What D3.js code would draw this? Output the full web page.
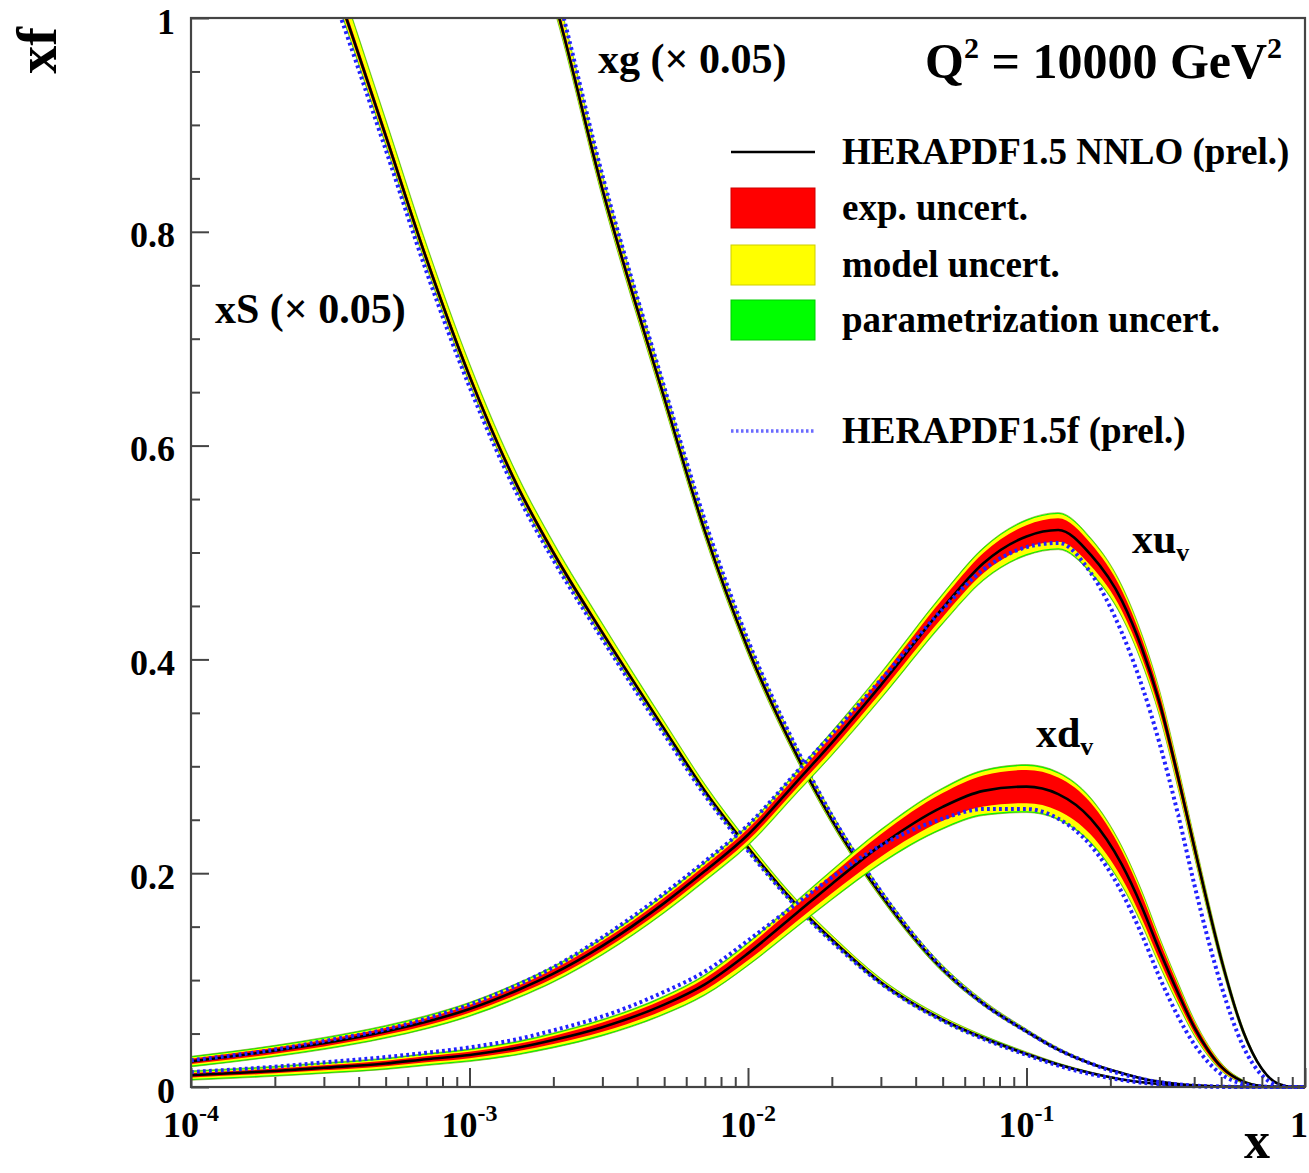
<!DOCTYPE html>
<html><head><meta charset="utf-8">
<script src="https://cdn.jsdelivr.net/npm/d3@7"></script>
<style>
body{margin:0;background:#fff}
svg{display:block}
text{font-family:"Liberation Serif","Times New Roman",serif;font-weight:bold;fill:#000}
</style>
</head><body>
<svg id="chart" width="1309" height="1173"></svg>
<script>
// ---------------- DATA ----------------
const xGrid = [1e-4,2e-4,3e-4,5e-4,7e-4,1e-3,1.5e-3,2e-3,3e-3,5e-3,7e-3,1e-2,1.5e-2,2e-2,3e-2,5e-2,7e-2,0.1,0.13,0.17,0.22,0.26,0.3,0.35,0.4,0.45,0.5,0.6,0.7,0.8,0.9,1.0];

// xu_v  (HERAPDF1.5 NNLO central, uncertainties) and HERAPDF1.5f
const xuv      = [0.024,0.034,0.041,0.052,0.061,0.073,0.091,0.106,0.132,0.172,0.202,0.236,0.286,0.322,0.376,0.448,0.490,0.515,0.521,0.498,0.455,0.410,0.360,0.290,0.225,0.168,0.120,0.052,0.017,0.003,0.0002,0];
const xuvExp   = [0.0025,0.0028,0.003,0.0032,0.0034,0.0036,0.004,0.0042,0.0045,0.005,0.0052,0.0055,0.006,0.0065,0.007,0.0085,0.0095,0.0105,0.011,0.0105,0.0095,0.0088,0.008,0.007,0.0058,0.0046,0.0035,0.0018,0.0007,0.0002,0,0];
const xuvModUp = [0.001,0.001,0.0012,0.0012,0.0013,0.0014,0.0015,0.0016,0.0018,0.002,0.0022,0.0024,0.0027,0.003,0.0033,0.0036,0.0038,0.004,0.004,0.0038,0.0035,0.0032,0.0028,0.0024,0.002,0.0016,0.0012,0.0006,0.0002,0,0,0];
const xuvModDn = [0.0015,0.0017,0.0018,0.002,0.0021,0.0022,0.0024,0.0026,0.0028,0.003,0.0032,0.0035,0.0038,0.0042,0.0046,0.005,0.0055,0.006,0.006,0.0055,0.0048,0.0042,0.0036,0.003,0.0024,0.0019,0.0014,0.0007,0.0002,0,0,0];
const xuvPar   = [0.0012,0.0012,0.0012,0.0012,0.0012,0.0012,0.0012,0.0012,0.0012,0.0012,0.0012,0.0012,0.0012,0.0012,0.0013,0.0013,0.0013,0.0013,0.0013,0.0013,0.0012,0.0012,0.0011,0.001,0.0009,0.0008,0.0007,0.0004,0.0002,0,0,0];
const xuvF     = [0.025,0.035,0.043,0.054,0.064,0.077,0.096,0.112,0.140,0.181,0.211,0.245,0.295,0.330,0.381,0.447,0.484,0.505,0.509,0.481,0.425,0.375,0.322,0.255,0.190,0.137,0.095,0.038,0.011,0.0015,0,0];

// xd_v
const xdv      = [0.011,0.015,0.018,0.022,0.026,0.030,0.037,0.044,0.056,0.077,0.096,0.125,0.163,0.190,0.226,0.262,0.277,0.281,0.274,0.251,0.208,0.168,0.128,0.088,0.056,0.034,0.019,0.005,0.001,0.0001,0,0];
const xdvExp   = [0.002,0.0022,0.0024,0.0026,0.0028,0.003,0.0034,0.0038,0.0043,0.005,0.0056,0.0065,0.0078,0.0088,0.0105,0.013,0.0145,0.0155,0.0155,0.0148,0.0128,0.011,0.009,0.007,0.005,0.0035,0.0025,0.001,0.0003,0,0,0];
const xdvModUp = [0.001,0.001,0.0011,0.0012,0.0013,0.0014,0.0015,0.0016,0.0018,0.002,0.0022,0.0025,0.0028,0.003,0.0032,0.0035,0.0037,0.0038,0.0037,0.0035,0.0032,0.0028,0.0024,0.0019,0.0014,0.001,0.0007,0.0003,0.0001,0,0,0];
const xdvModDn = [0.0015,0.0016,0.0017,0.0018,0.0019,0.002,0.0022,0.0024,0.0027,0.003,0.0034,0.0038,0.0043,0.0048,0.0055,0.0065,0.0072,0.0075,0.0073,0.0068,0.0058,0.0048,0.004,0.003,0.002,0.0013,0.0008,0.0003,0.0001,0,0,0];
const xdvPar   = [0.0012,0.0012,0.0012,0.0012,0.0012,0.0012,0.0012,0.0012,0.0012,0.0012,0.0012,0.0012,0.0012,0.0012,0.0013,0.0013,0.0013,0.0013,0.0013,0.0013,0.0012,0.0012,0.0011,0.001,0.0008,0.0006,0.0004,0.0002,0,0,0,0];
const xdvF     = [0.014,0.019,0.023,0.028,0.032,0.037,0.045,0.053,0.066,0.089,0.108,0.137,0.172,0.196,0.226,0.251,0.260,0.260,0.251,0.226,0.182,0.142,0.103,0.066,0.040,0.023,0.012,0.003,0.0005,0,0,0];

// xS (x 0.05)
const xS       = [1.45,1.18,1.06,0.89,0.775,0.665,0.56,0.50,0.425,0.335,0.277,0.224,0.170,0.138,0.098,0.063,0.046,0.031,0.021,0.013,0.007,0.0045,0.0028,0.0015,0.0008,0.0004,0.0002,0.00005,0,0,0,0];
const xSExp    = [0.007,0.006,0.005,0.0045,0.004,0.0035,0.003,0.0028,0.0025,0.002,0.0018,0.0016,0.0014,0.0012,0.001,0.0008,0.0007,0.0006,0.0005,0.0004,0.0003,0.0002,0.0001,0.0001,0,0,0,0,0,0,0,0];
const xSModUp  = [0.015,0.012,0.011,0.009,0.008,0.007,0.006,0.0055,0.005,0.004,0.0035,0.003,0.0025,0.0022,0.0018,0.0014,0.0011,0.0008,0.0006,0.0004,0.0003,0.0002,0.0001,0.0001,0,0,0,0,0,0,0,0];
const xSModDn  = [0.004,0.003,0.003,0.0025,0.002,0.002,0.0018,0.0016,0.0014,0.0012,0.001,0.0009,0.0008,0.0007,0.0006,0.0005,0.0004,0.0003,0.0002,0.0002,0.0001,0.0001,0,0,0,0,0,0,0,0,0,0];
const xSPar    = [0.003,0.0025,0.002,0.002,0.0018,0.0016,0.0015,0.0014,0.0013,0.0012,0.0011,0.001,0.0009,0.0008,0.0007,0.0006,0.0005,0.0004,0.0003,0.0002,0.0001,0.0001,0,0,0,0,0,0,0,0,0,0];
const xSF      = [1.43,1.165,1.045,0.877,0.763,0.655,0.552,0.493,0.419,0.330,0.273,0.221,0.168,0.136,0.097,0.062,0.045,0.030,0.020,0.012,0.0065,0.004,0.0025,0.0013,0.0007,0.0003,0.0001,0,0,0,0,0];

// xg (x 0.05)
const xg       = [2.6,2.2,1.95,1.65,1.45,1.28,1.12,1.02,0.84,0.645,0.52,0.41,0.31,0.25,0.18,0.11,0.078,0.052,0.035,0.022,0.013,0.008,0.005,0.0028,0.0015,0.0008,0.0004,0.0001,0,0,0,0];
const xgExp    = [0.01,0.009,0.008,0.007,0.0065,0.006,0.0055,0.005,0.0045,0.004,0.0035,0.003,0.0025,0.0022,0.0018,0.0014,0.0011,0.0008,0.0006,0.0004,0.0003,0.0002,0.0001,0.0001,0,0,0,0,0,0,0,0];
const xgModUp  = [0.02,0.018,0.016,0.014,0.012,0.011,0.01,0.009,0.0075,0.006,0.005,0.0042,0.0035,0.003,0.0024,0.0018,0.0014,0.001,0.0008,0.0005,0.0003,0.0002,0.0001,0.0001,0,0,0,0,0,0,0,0];
const xgModDn  = [0.005,0.0045,0.004,0.0035,0.003,0.003,0.0028,0.0025,0.0022,0.002,0.0018,0.0015,0.0012,0.001,0.0008,0.0006,0.0005,0.0004,0.0003,0.0002,0.0001,0.0001,0,0,0,0,0,0,0,0,0,0];
const xgPar    = [0.004,0.0035,0.003,0.0028,0.0025,0.0022,0.002,0.0018,0.0016,0.0014,0.0012,0.0011,0.001,0.0009,0.0008,0.0006,0.0005,0.0004,0.0003,0.0002,0.0001,0.0001,0,0,0,0,0,0,0,0,0,0];
const xgF      = [2.64,2.23,1.98,1.675,1.47,1.30,1.137,1.036,0.853,0.655,0.53,0.418,0.316,0.254,0.183,0.111,0.078,0.052,0.035,0.022,0.012,0.0075,0.0045,0.0025,0.0013,0.0007,0.0003,0.0001,0,0,0,0];

// axes / labels
const xMajorTicks = [1e-4,1e-3,1e-2,1e-1,1];
const xTickBase   = ["10","10","10","10","1"];
const xTickExp    = ["-4","-3","-2","-1",""];
const yMajorTicks = [0,0.2,0.4,0.6,0.8,1];
const yTickLabels = ["0","0.2","0.4","0.6","0.8","1"];
const yMinorTicks = [0.05,0.1,0.15,0.25,0.3,0.35,0.45,0.5,0.55,0.65,0.7,0.75,0.85,0.9,0.95];
const legendLabels = ["HERAPDF1.5 NNLO (prel.)","exp. uncert.","model uncert.","parametrization uncert.","HERAPDF1.5f (prel.)"];
const bandColors = {par:"#00ff00", model:"#ffff00", exp:"#ff0000"};

// ---------------- DRAW ----------------
const svg = d3.select("#chart");
const M = {left:191, right:1305, top:18, bottom:1087};
const x = d3.scaleLog().domain([1e-4,1]).range([M.left,M.right]);
const y = d3.scaleLinear().domain([0,1]).range([M.bottom,M.top]);

svg.append("defs").append("clipPath").attr("id","clip")
  .append("rect").attr("x",M.left).attr("y",M.top)
  .attr("width",M.right-M.left).attr("height",M.bottom-M.top+3);

const plot = svg.append("g").attr("clip-path","url(#clip)");

function drawPDF(c, e, mu, md, p, f){
  const pts = xGrid.map((xv,i)=>({x:xv,c:c[i],e:e[i],mu:mu[i],md:md[i],p:p[i],f:f[i]}));
  const band = (lo,hi)=>d3.area().x(d=>x(d.x)).y0(d=>y(lo(d))).y1(d=>y(hi(d))).curve(d3.curveMonotoneX)(pts);
  const g = plot.append("g");
  g.append("path").attr("fill",bandColors.par).attr("stroke","#7a9a00").attr("stroke-width",0.6)
    .attr("d",band(d=>d.c-d.e-d.md-d.p, d=>d.c+d.e+d.mu+d.p));
  g.append("path").attr("fill",bandColors.model)
    .attr("d",band(d=>d.c-d.e-d.md, d=>d.c+d.e+d.mu));
  g.append("path").attr("fill",bandColors.exp)
    .attr("d",band(d=>d.c-d.e, d=>d.c+d.e));
  const line = d3.line().x(d=>x(d.x)).curve(d3.curveMonotoneX);
  g.append("path").attr("fill","none").attr("stroke","#000").attr("stroke-width",2.6)
    .attr("d",line.y(d=>y(d.c))(pts));
  g.append("path").attr("fill","none").attr("stroke","#2222ff").attr("stroke-width",4)
    .attr("stroke-dasharray","2.8,3.2")
    .attr("d",line.y(d=>y(d.f))(pts));
}
drawPDF(xS, xSExp, xSModUp, xSModDn, xSPar, xSF);
drawPDF(xg, xgExp, xgModUp, xgModDn, xgPar, xgF);
drawPDF(xuv, xuvExp, xuvModUp, xuvModDn, xuvPar, xuvF);
drawPDF(xdv, xdvExp, xdvModUp, xdvModDn, xdvPar, xdvF);

// frame
svg.append("rect").attr("x",M.left).attr("y",M.top).attr("width",M.right-M.left).attr("height",M.bottom-M.top)
  .attr("fill","none").attr("stroke","#444").attr("stroke-width",2.2);

// y axis
const yAx = svg.append("g").attr("transform",`translate(${M.left},0)`)
  .call(d3.axisLeft(y).tickValues(yMajorTicks).tickSizeInner(-18).tickSizeOuter(0).tickPadding(16)
        .tickFormat((d,i)=>yTickLabels[i]));
yAx.select(".domain").remove();
yAx.selectAll("line").attr("stroke","#444").attr("stroke-width",2);
yAx.selectAll("text").attr("font-size",36).attr("dy","0.42em")
  .attr("font-family","Liberation Serif").attr("font-weight","bold");
const yMin = svg.append("g").attr("transform",`translate(${M.left},0)`)
  .call(d3.axisLeft(y).tickValues(yMinorTicks).tickSizeInner(-9).tickSizeOuter(0).tickFormat(""));
yMin.select(".domain").remove();
yMin.selectAll("line").attr("stroke","#444").attr("stroke-width",2);

// x axis
const xMinorTicks = [];
[1e-4,1e-3,1e-2,1e-1].forEach(dec=>{ for(let k=2;k<=9;k++) xMinorTicks.push(dec*k); });
const xAx = svg.append("g").attr("transform",`translate(0,${M.bottom})`)
  .call(d3.axisBottom(x).tickValues(xMajorTicks).tickSizeInner(-19).tickSizeOuter(0).tickFormat(""));
xAx.select(".domain").remove();
xAx.selectAll("line").attr("stroke","#444").attr("stroke-width",2);
const xMin = svg.append("g").attr("transform",`translate(0,${M.bottom})`)
  .call(d3.axisBottom(x).tickValues(xMinorTicks).tickSizeInner(-10).tickSizeOuter(0).tickFormat(""));
xMin.select(".domain").remove();
xMin.selectAll("line").attr("stroke","#444").attr("stroke-width",2);

xMajorTicks.forEach((v,i)=>{
  const last = i === xMajorTicks.length-1;
  const t = svg.append("text").attr("x",last ? 1308 : x(v)).attr("y",1137)
    .attr("text-anchor",last ? "end" : "middle").attr("font-size",36);
  t.append("tspan").text(xTickBase[i]);
  if(xTickExp[i]) t.append("tspan").attr("font-size",24).attr("dy",-16).text(xTickExp[i]);
});

// axis titles
svg.append("text").attr("transform","translate(56,27) rotate(-90)").attr("text-anchor","end")
  .attr("font-size",56).text("xf");
svg.append("text").attr("x",1270).attr("y",1158).attr("text-anchor","end").attr("font-size",52).text("x");

// curve labels
svg.append("text").attr("x",598).attr("y",73).attr("font-size",42).text("xg (\u00d7 0.05)");
svg.append("text").attr("x",215).attr("y",323).attr("font-size",42).text("xS (\u00d7 0.05)");
const lu = svg.append("text").attr("x",1132).attr("y",553).attr("font-size",42);
lu.append("tspan").text("xu");
lu.append("tspan").attr("font-size",26).attr("dy",8).text("v");
const ld = svg.append("text").attr("x",1036).attr("y",747).attr("font-size",42);
ld.append("tspan").text("xd");
ld.append("tspan").attr("font-size",26).attr("dy",8).text("v");

// Q2 label
const q = svg.append("text").attr("x",925).attr("y",78).attr("font-size",50);
q.append("tspan").text("Q");
q.append("tspan").attr("font-size",30).attr("dy",-20).text("2");
q.append("tspan").attr("dy",20).text(" = 10000 GeV");
q.append("tspan").attr("font-size",30).attr("dy",-20).text("2");

// legend
const lg = svg.append("g");
const lx0 = 731, lw = 84, ltx = 842;
const rowY = [152,208,265,320,431];
lg.append("line").attr("x1",lx0).attr("x2",lx0+lw).attr("y1",rowY[0]).attr("y2",rowY[0])
  .attr("stroke","#000").attr("stroke-width",2.6);
[bandColors.exp,bandColors.model,bandColors.par].forEach((c,i)=>{
  lg.append("rect").attr("x",lx0).attr("y",rowY[i+1]-20).attr("width",lw).attr("height",40)
    .attr("fill",c).attr("stroke",d3.color(c).darker(0.6)).attr("stroke-width",1);
});
lg.append("line").attr("x1",lx0).attr("x2",lx0+lw).attr("y1",rowY[4]).attr("y2",rowY[4])
  .attr("stroke","#6a6aff").attr("stroke-width",3.5).attr("stroke-dasharray","2.5,2.5");
legendLabels.forEach((s,i)=>{
  lg.append("text").attr("x",ltx).attr("y",rowY[i]+12).attr("font-size",37).text(s);
});
</script>
</body></html>
